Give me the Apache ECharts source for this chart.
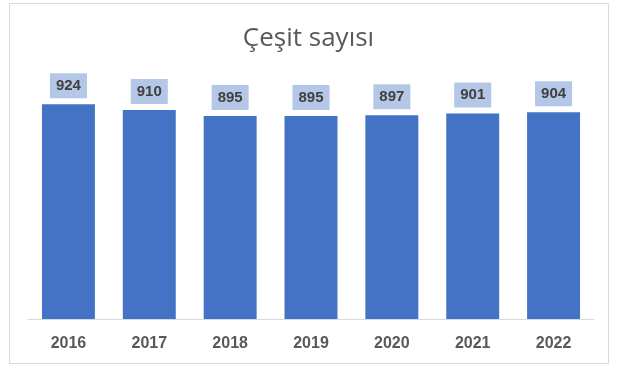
<!DOCTYPE html>
<html>
<head>
<meta charset="utf-8">
<script src="https://cdn.jsdelivr.net/npm/echarts@6/dist/echarts.min.js"></script>
<style>
html,body{margin:0;padding:0;background:#fff;}
#c{width:617px;height:372px;}
</style>
</head>
<body>
<div id="c"></div>
<script>
const titleText = 'Çeşit sayısı';
const categories = ['2016', '2017', '2018', '2019', '2020', '2021', '2022'];
const values = [924, 910, 895, 895, 897, 901, 904];

const chart = echarts.init(document.getElementById('c'), null, {renderer: 'canvas'});
chart.setOption({
  backgroundColor: '#ffffff',
  animation: false,
  graphic: [{
    type: 'rect',
    shape: {x: 9.5, y: 3.5, width: 599, height: 360},
    style: {fill: 'none', stroke: '#D9D9D9', lineWidth: 1},
    silent: true
  }],
  title: {
    text: titleText,
    left: 'center',
    top: 21,
    textStyle: {
      fontFamily: 'Open Sans',
      fontSize: 26,
      fontWeight: 'normal',
      color: '#595959'
    }
  },
  grid: {left: 28, right: 23, top: 73, bottom: 53, containLabel: false},
  xAxis: {
    type: 'category',
    data: categories,
    axisLine: {show: true, lineStyle: {color: '#D9D9D9', width: 1}},
    axisTick: {show: false},
    axisLabel: {
      margin: 17,
      fontFamily: 'Liberation Sans',
      fontSize: 16,
      fontWeight: 'bold',
      color: '#595959'
    }
  },
  yAxis: {
    type: 'value',
    min: 400,
    max: 1000,
    show: false,
    splitLine: {show: false}
  },
  series: [{
    type: 'bar',
    data: values,
    barWidth: '65.5%',
    itemStyle: {color: '#4472C4'},
    label: {
      show: true,
      position: 'top',
      distance: 6,
      fontFamily: 'Liberation Sans',
      fontSize: 15,
      fontWeight: 'bold',
      color: '#404040',
      backgroundColor: '#B4C7E7',
      padding: [5, 6, 5, 6]
    }
  }]
});
</script>
</body>
</html>
